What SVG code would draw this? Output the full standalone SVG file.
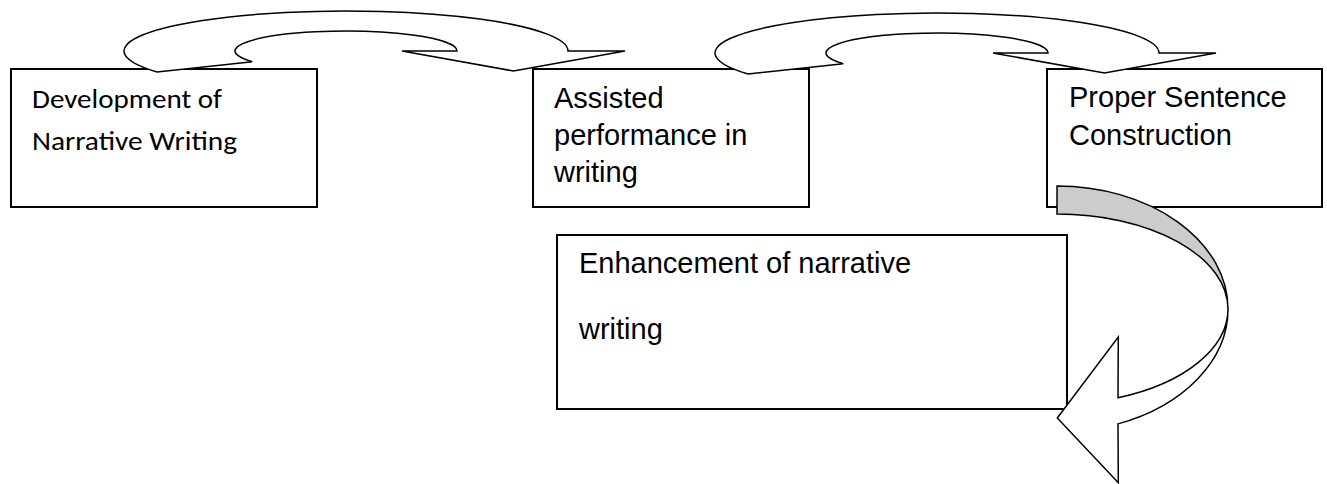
<svg xmlns="http://www.w3.org/2000/svg" xmlns:xlink="http://www.w3.org/1999/xlink" width="1327" height="484" viewBox="0 0 1327 484">
  <style>
    .box { fill: #ffffff; stroke: #000000; stroke-width: 2; }
    .arrow { fill: #ffffff; stroke: #000000; stroke-width: 1.5; stroke-linejoin: miter; }
    .back { fill: #cccccc; stroke: #000000; stroke-width: 1.5; }
    .lbl { font-family: "Liberation Sans", Arial, sans-serif; font-size: 29px; fill: #000000; }
    .lbl-c { font-family: Carlito, Lato, "Open Sans", sans-serif; font-size: 26px; fill: #000000; }
  </style>
  <defs>
    <!-- curved-down block arrow: outer/inner half ellipses with a head on the right -->
    <path id="curvedDown" d="M157.1,72 A222,40 0 1 1 568,51 L625,51 L513.5,71 L402,51 L457,51 A111,20 0 1 0 252.2,61.7 Z"/>
  </defs>
  <rect width="1327" height="484" fill="#ffffff"/>

  <g id="node-development">
    <rect class="box" x="11" y="69" width="306" height="138"/>
    <text class="lbl-c" x="32" y="108" textLength="190" lengthAdjust="spacingAndGlyphs">Development of</text>
    <text class="lbl-c" x="32" y="150" textLength="205" lengthAdjust="spacingAndGlyphs">Narrative Writing</text>
  </g>

  <g id="node-assisted">
    <rect class="box" x="533" y="69" width="276" height="138"/>
    <text class="lbl" x="554" y="108">Assisted</text>
    <text class="lbl" x="554" y="145">performance in</text>
    <text class="lbl" x="554" y="182">writing</text>
  </g>

  <g id="node-sentence">
    <rect class="box" x="1047" y="69" width="275" height="138"/>
    <text class="lbl" x="1069" y="107">Proper Sentence</text>
    <text class="lbl" x="1069" y="145">Construction</text>
  </g>

  <g id="node-enhancement">
    <rect class="box" x="557" y="235" width="510" height="174"/>
    <text class="lbl" x="579" y="273">Enhancement of narrative</text>
    <text class="lbl" x="579" y="339">writing</text>
  </g>

  <g id="connectors">
    <use xlink:href="#curvedDown" class="arrow"/>
    <use xlink:href="#curvedDown" class="arrow" transform="translate(591,2)"/>
    <!-- curved-left arrow: shaded back band, then the front band and head -->
    <path class="back" d="M1057,186 A171,123 0 0 1 1228,309 A171,95 0 0 0 1057,214 Z"/>
    <path class="arrow" d="M1228,309 A171,123 0 0 1 1118,423.9 L1118.3,482.7 L1057.3,418 L1118.3,337 L1118,397.7 A171,95 0 0 0 1228,309 Z"/>
  </g>
</svg>
